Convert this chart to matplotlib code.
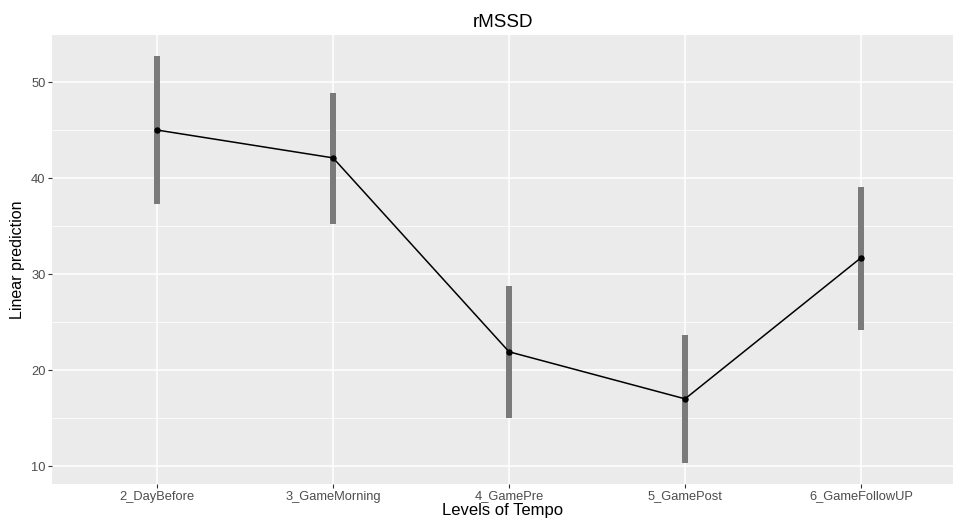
import matplotlib.pyplot as plt
import numpy as np

# rMSSD linear predictions per tempo level
levels = ['2_DayBefore', '3_GameMorning', '4_GamePre', '5_GamePost', '6_GameFollowUP']
pred = [45.0, 42.1, 21.9, 17.0, 31.7]
lower = [37.3, 35.2, 15.0, 10.3, 24.2]
upper = [52.7, 48.9, 28.75, 23.6, 39.1]

plt.rcParams['font.family'] = ['Liberation Sans', 'DejaVu Sans']

fig = plt.figure(figsize=(9.54, 5.19), dpi=100)
ax = fig.add_axes([52 / 954, 35 / 519, 902 / 954, 449 / 519])
ax.set_facecolor('#EBEBEB')

x = np.arange(len(levels))

# grid like ggplot
for yv in [10, 20, 30, 40, 50]:
    ax.axhline(yv, color='white', lw=1.1, zorder=0)
for yv in [15, 25, 35, 45]:
    ax.axhline(yv, color='white', lw=0.55, zorder=0)
for xv in x:
    ax.axvline(xv, color='white', lw=1.1, zorder=0)

ax.vlines(x, lower, upper, color='#7A7A7A', lw=4.3, zorder=2)
ax.plot(x, pred, color='black', lw=1.1, zorder=3)
ax.plot(x, pred, 'o', color='black', ms=3.6, zorder=4)

ax.set_xlim(-0.597, 4.528)
ax.set_ylim(8.13, 54.9)
ax.set_xticks(x)
ax.set_xticklabels(levels)
ax.set_yticks([10, 20, 30, 40, 50])

for s in ax.spines.values():
    s.set_visible(False)
ax.tick_params(colors='#333333', length=2.7, width=0.8, labelsize=9.3, labelcolor='#4D4D4D', pad=2)

ax.set_title('rMSSD', fontsize=13.5, pad=6)
ax.set_xlabel('Levels of Tempo', fontsize=12, labelpad=0)
ax.set_ylabel('Linear prediction', fontsize=11.5, labelpad=4)

plt.savefig('out.png', dpi=100)
